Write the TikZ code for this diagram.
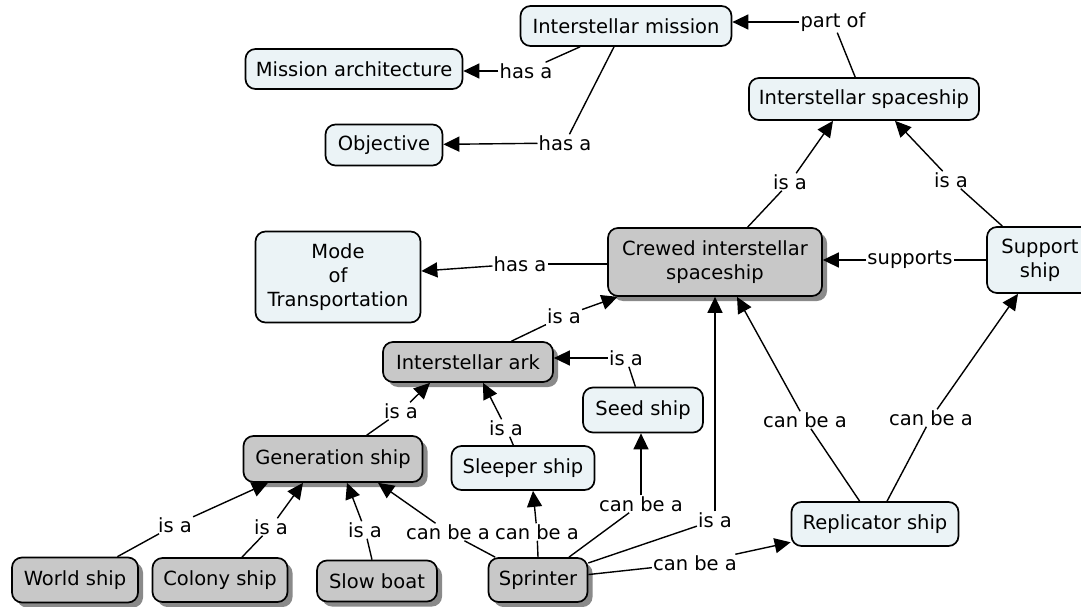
\documentclass[tikz,border=0pt]{standalone}
\usepackage{fontspec}
\setmainfont{DejaVu Sans}
\usetikzlibrary{arrows.meta,shadows,calc}
\definecolor{lightbox}{HTML}{EBF3F6}
\definecolor{graybox}{HTML}{C8C8C8}
\definecolor{shadowgray}{HTML}{8A8A8A}
\begin{document}
\begin{tikzpicture}[x=1pt,y=-1pt,
  every node/.style={font=\fontsize{19.5}{24}\selectfont},
  concept/.style={draw=black, line width=1.7pt, rounded corners=10pt, inner sep=2pt, align=center},
  light/.style={concept, fill=lightbox},
  grayc/.style={concept, fill=graybox, drop shadow={shadow xshift=5pt, shadow yshift=-5pt, fill=shadowgray, opacity=1}},
  lbl/.style={inner sep=1pt},
  link/.style={line width=1.4pt},
  arr/.style={line width=1.4pt, -{Triangle[length=16pt,width=15pt]}},
]
\useasboundingbox[fill=white] (0,0) rectangle (1081,607);

% concepts
\node[light, minimum width=211pt, minimum height=40pt] (mission) at (626,26) {Interstellar mission};
\node[light, minimum width=217pt, minimum height=40pt] (arch) at (354,69) {Mission architecture};
\node[light, minimum width=117pt, minimum height=41pt] (obj) at (384,145) {Objective};
\node[light, minimum width=230pt, minimum height=42pt] (space) at (864,99) {Interstellar spaceship};
\node[light, minimum width=165pt, minimum height=91pt] (mode) at (338,277) {Mode\\of\\Transportation};
\node[grayc, minimum width=214pt, minimum height=68pt] (crewed) at (715,262) {Crewed interstellar\\spaceship};
\node[light, minimum width=106pt, minimum height=66pt] (support) at (1040,260) {Support\\ship};
\node[grayc, minimum width=170pt, minimum height=40pt] (ark) at (468,362) {Interstellar ark};
\node[light, minimum width=120pt, minimum height=45pt] (seed) at (643,410) {Seed ship};
\node[grayc, minimum width=179pt, minimum height=46pt] (gen) at (333,459) {Generation ship};
\node[light, minimum width=143pt, minimum height=44pt] (sleeper) at (523,468) {Sleeper ship};
\node[light, minimum width=167pt, minimum height=44pt] (repl) at (875,524) {Replicator ship};
\node[grayc, minimum width=126pt, minimum height=45pt] (world) at (75,580) {World ship};
\node[grayc, minimum width=135pt, minimum height=44pt] (colony) at (220,580) {Colony ship};
\node[grayc, minimum width=120pt, minimum height=41pt] (slow) at (377,581) {Slow boat};
\node[grayc, minimum width=99pt, minimum height=44pt] (sprint) at (538,580) {Sprinter};

% linking phrases
\node[lbl] (l1) at (833,22) {part of};
\node[lbl] (l2) at (526,71) {has a};
\node[lbl] (l3) at (565,143) {has a};
\node[lbl] (l4) at (790,182) {is a};
\node[lbl] (l5) at (951,180) {is a};
\node[lbl] (l6) at (910,260) {supports};
\node[lbl] (l7) at (520,264) {has a};
\node[lbl] (l8) at (564,316) {is a};
\node[lbl] (l9) at (626,358) {is a};
\node[lbl] (l10) at (401,411) {is a};
\node[lbl] (l11) at (506,428) {is a};
\node[lbl] (l12) at (175,525) {is a};
\node[lbl] (l13) at (271,527) {is a};
\node[lbl] (l14) at (365,530) {is a};
\node[lbl] (l15) at (448,532) {can be a};
\node[lbl] (l16) at (537,532) {can be a};
\node[lbl] (l17) at (641,504) {can be a};
\node[lbl] (l18) at (715,520) {is a};
\node[lbl] (l19) at (695,563) {can be a};
\node[lbl] (l20) at (805,420) {can be a};
\node[lbl] (l21) at (931,418) {can be a};

% connections
\draw[link] (space) -- (l1); \draw[arr] (l1) -- (mission.east |- l1);
\draw[link] ($(mission.south)+(-46,0)$) -- (l2); \draw[arr] (l2) -- (arch.east |- l2);
\draw[link] ($(mission.south)+(-12,0)$) -- (l3); \draw[arr] (l3) -- (obj);
\draw[link] (crewed) -- (l4); \draw[arr] (l4) -- ($(space.south)+(-31,0)$);
\draw[link] (support) -- (l5); \draw[arr] (l5) -- ($(space.south)+(31,0)$);
\draw[link] (support.west |- l6) -- (l6); \draw[arr] (l6) -- (crewed.east |- l6);
\draw[link] (crewed.west |- l7) -- (l7); \draw[arr] (l7) -- (mode);
\draw[link] (ark) -- (l8); \draw[arr] (l8) -- (crewed);
\draw[link] (seed) -- (l9); \draw[arr] (l9) -- (ark.east |- l9);
\draw[link] (gen) -- (l10); \draw[arr] (l10) -- ($(ark.south)+(-38,0)$);
\draw[link] (sleeper) -- (l11); \draw[arr] (l11) -- ($(ark.south)+(15,0)$);
\draw[link] (world) -- (l12); \draw[arr] (l12) -- ($(gen.south)+(-65,0)$);
\draw[link] (colony) -- (l13); \draw[arr] (l13) -- ($(gen.south)+(-30,0)$);
\draw[link] (slow) -- (l14); \draw[arr] (l14) -- ($(gen.south)+(14,0)$);
\draw[link] (sprint) -- (l15); \draw[arr] (l15) -- ($(gen.south)+(45,0)$);
\draw[link] (sprint.north) -- (l16); \draw[arr] (l16) -- ($(sleeper.south)+(10,0)$);
\draw[link] (sprint) -- (l17); \draw[arr] (l17) -- (seed.south -| l17);
\draw[link] (sprint) -- (l18); \draw[arr] (l18) -- (crewed.south -| l18);
\draw[link] (sprint) -- (l19); \draw[arr] (l19) -- (repl);
\draw[link] (repl) -- (l20); \draw[arr] (l20) -- ($(crewed.south)+(22,0)$);
\draw[link] (repl) -- (l21); \draw[arr] (l21) -- ($(support.south)+(-22,0)$);
\end{tikzpicture}
\end{document}
